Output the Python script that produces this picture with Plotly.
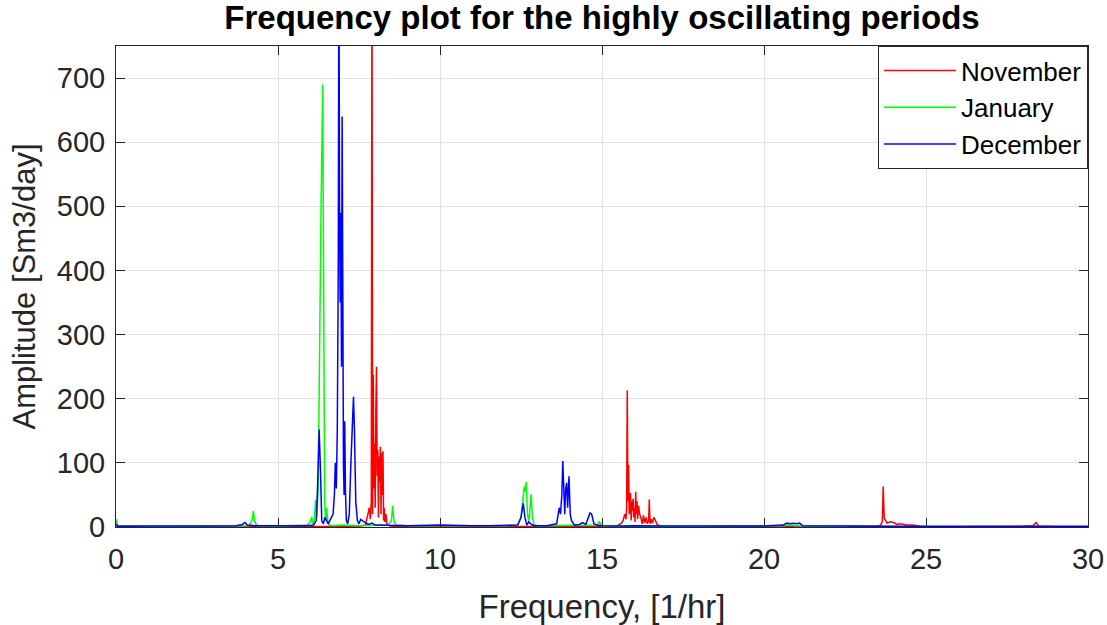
import plotly.graph_objects as go

# ---- data ----
nov_f = [0, 1, 2, 3, 4, 5, 6, 6.5, 7, 7.5, 7.7, 7.78, 7.82, 7.85, 7.88, 7.90, 7.92, 7.94, 7.96, 7.98,
         8.00, 8.02, 8.04, 8.06, 8.08, 8.10, 8.12, 8.14, 8.16, 8.18, 8.20, 8.22, 8.24, 8.26, 8.28, 8.30,
         8.33, 8.36, 8.40, 8.5, 9, 10, 11, 12, 13, 14, 15, 15.4, 15.5, 15.6, 15.65, 15.7, 15.74, 15.76,
         15.78, 15.80, 15.82, 15.84, 15.86, 15.88, 15.90, 15.92, 15.94, 15.96, 15.98, 16.00, 16.02, 16.04,
         16.06, 16.08, 16.10, 16.13, 16.16, 16.2, 16.24, 16.28, 16.32, 16.36, 16.40, 16.44, 16.46, 16.48,
         16.52, 16.56, 16.6, 16.65, 16.7, 16.8, 17, 18, 19, 20, 21, 22, 23, 23.5, 23.6, 23.65, 23.68,
         23.71, 23.74, 23.8, 23.9, 24.0, 24.1, 24.2, 24.4, 24.6, 24.8, 25, 26, 27, 28, 28.3, 28.4, 28.45,
         28.5, 29, 30]
nov_a = [2, 0.5, 0.5, 0.5, 0.5, 0.5, 0.5, 0.5, 0.5, 1, 3, 20, 30, 12, 40, 900, 20, 237, 60, 130,
         30, 180, 250, 80, 120, 15, 110, 70, 125, 20, 115, 50, 118, 10, 30, 8,
         20, 5, 3, 1, 0.5, 0.5, 0.5, 0.5, 0.5, 0.5, 0.5, 1, 3, 6, 10, 20, 12, 30,
         213, 40, 97, 20, 30, 53, 10, 40, 25, 44, 15, 30, 8, 55,
         20, 40, 12, 33, 20, 15, 5, 18, 6, 15, 5, 10, 43, 5,
         12, 6, 15, 10, 4, 1, 0.5, 0.5, 0.5, 0.5, 0.5, 0.5, 0.5, 1, 3, 8, 63,
         14, 11, 6, 8, 7, 4, 5, 3, 3, 1, 0.5, 0.5, 0.5, 1, 2, 7, 3,
         1, 0.5, 0.5]

jan_f = [0, 0.05, 1, 2, 3, 3.5, 4.1, 4.2, 4.24, 4.28, 4.35, 5, 5.5, 5.9, 6.0, 6.04, 6.08, 6.12, 6.16,
         6.2, 6.24, 6.28, 6.33, 6.38, 6.41, 6.44, 6.47, 6.50, 6.53, 6.58, 6.7, 7, 7.5, 8, 8.4, 8.5, 8.54,
         8.58, 8.65, 9, 10, 11, 12, 12.4, 12.5, 12.55, 12.6, 12.63, 12.66, 12.7, 12.74, 12.78, 12.81,
         12.85, 12.9, 13, 13.5, 14, 14.5, 14.85, 14.92, 14.98, 15.2, 16, 18, 19, 20.5, 20.8, 21.0, 22,
         25, 30]
jan_a = [12, 2, 1, 1.5, 1, 1.5, 2, 10, 25, 8, 2, 1.5, 2, 3, 8, 16, 4, 10, 42,
         15, 60, 320, 500, 690, 400, 40, 10, 30, 12, 3, 2, 3, 2, 2, 3, 10, 33,
         8, 3, 2, 1.5, 2, 2, 3, 15, 45, 63, 55, 70, 20, 8, 30, 51,
         15, 4, 2, 2, 2, 2, 3, 9, 2, 1.5, 1, 1, 2, 2, 3, 2, 1,
         0.5, 0.5]

dec_f = [0, 0.05, 1, 2, 3, 3.7, 3.9, 3.98, 4.05, 4.3, 5, 5.5, 5.9, 6.1, 6.18, 6.22, 6.27, 6.31, 6.35,
         6.4, 6.45, 6.5, 6.55, 6.6, 6.65, 6.7, 6.74, 6.77, 6.8, 6.83, 6.86, 6.88, 6.9, 6.92, 6.94, 6.96,
         6.98, 7.0, 7.02, 7.04, 7.06, 7.08, 7.11, 7.15, 7.2, 7.25, 7.3, 7.33, 7.36, 7.4, 7.45, 7.5, 7.55,
         7.6, 7.65, 7.75, 7.8, 7.9, 8.0, 8.5, 9, 10, 10.5, 11, 11.5, 12, 12.4, 12.5, 12.57, 12.62, 12.68,
         12.74, 12.8, 12.9, 13.3, 13.6, 13.68, 13.72, 13.76, 13.79, 13.82, 13.85, 13.88, 13.91, 13.94,
         13.98, 14.02, 14.06, 14.15, 14.3, 14.4, 14.5, 14.58, 14.63, 14.68, 14.75, 14.85, 15, 15.5, 16,
         17, 18, 19, 20, 20.6, 20.7, 20.8, 20.9, 21.0, 21.1, 21.2, 22, 23, 24, 25, 26, 27, 27.5, 28,
         28.5, 29, 30]
dec_a = [5, 1, 1.5, 1, 1.5, 2, 4, 7, 3, 2, 1.5, 2, 2, 3, 10, 60, 152, 90, 10,
         5, 15, 10, 5, 10, 15, 20, 50, 100, 60, 150, 400, 900, 480, 350, 490, 250,
         640, 300, 100, 50, 165, 60, 10, 5, 20, 100, 190, 203, 150, 40, 10, 5, 12,
         10, 8, 5, 4, 6, 3, 2, 2, 3, 2, 2, 2, 2, 3, 15, 37, 15, 3,
         8, 5, 2, 2, 5, 30, 20, 50, 103, 40, 20, 60, 69, 30,
         79, 20, 10, 3, 4, 7, 4, 15, 22, 20, 5, 3, 2, 1.5, 2,
         1.5, 1.5, 2, 1.5, 3, 6, 5, 6, 5, 6, 2, 1.5, 1.5, 1, 1, 1, 1.5, 2, 2,
         1.5, 1, 1]

x_ticks = [0, 5, 10, 15, 20, 25, 30]
y_ticks = [0, 100, 200, 300, 400, 500, 600, 700]

FONT = "Liberation Sans, Arial, Helvetica, sans-serif"
AXC = "#262626"

fig = go.Figure()
fig.add_trace(go.Scatter(x=nov_f, y=nov_a, mode="lines", name="November",
                         line=dict(color="#FF0000", width=1.5)))
fig.add_trace(go.Scatter(x=jan_f, y=jan_a, mode="lines", name="January",
                         line=dict(color="#00FF00", width=1.5)))
fig.add_trace(go.Scatter(x=dec_f, y=dec_a, mode="lines", name="December",
                         line=dict(color="#0000FF", width=1.5)))

axis_common = dict(showline=True, linecolor=AXC, linewidth=1, mirror="ticks",
                   ticks="inside", ticklen=9, tickcolor=AXC, tickwidth=1,
                   showgrid=True, gridcolor="#e2e2e2", gridwidth=1, zeroline=False,
                   automargin=False,
                   tickfont=dict(family=FONT, size=29, color=AXC))

fig.update_xaxes(range=[0, 30], tickvals=x_ticks, ticktext=[str(v) for v in x_ticks],
                 ticklabelstandoff=6,
                 title=dict(text="Frequency, [1/hr]", font=dict(family=FONT, size=33, color=AXC),
                            standoff=22),
                 **axis_common)
fig.update_yaxes(range=[0, 750], tickvals=y_ticks, ticktext=[str(v) for v in y_ticks],
                 ticklabelstandoff=4,
                 title=dict(text="Amplitude [Sm3/day]", font=dict(family=FONT, size=31, color=AXC),
                            standoff=11),
                 **axis_common)

fig.update_layout(
    width=1107, height=625,
    margin=dict(l=116, r=19, t=46, b=98),
    paper_bgcolor="white", plot_bgcolor="white",
    title=dict(text="<b>Frequency plot for the highly oscillating periods</b>",
               x=0.5, xref="paper", xanchor="center", y=0.972, yanchor="middle",
               font=dict(family=FONT, size=33, color="black"), automargin=False),
    legend=dict(x=1, y=1, xanchor="right", yanchor="top", bgcolor="white",
                bordercolor=AXC, borderwidth=1,
                font=dict(family=FONT, size=26, color="black"),
                tracegroupgap=0, itemwidth=72),
    showlegend=True,
)

fig.write_html("out.html")
